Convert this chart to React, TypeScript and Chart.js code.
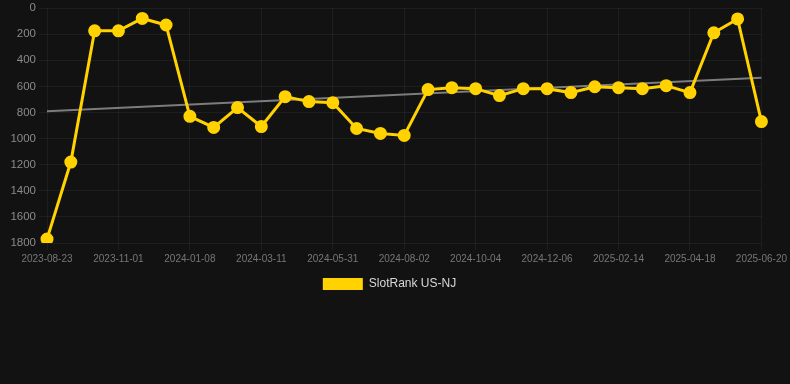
import React, { useEffect, useRef } from "react";
import { Chart, registerables } from "chart.js";

Chart.register(...registerables);

const dates: string[] = [
  "2023-08-23", "2023-09-15", "2023-10-08", "2023-11-01", "2023-11-24", "2023-12-16",
  "2024-01-08", "2024-01-29", "2024-02-19", "2024-03-11", "2024-04-07", "2024-05-04",
  "2024-05-31", "2024-06-21", "2024-07-12", "2024-08-02", "2024-08-23", "2024-09-13",
  "2024-10-04", "2024-10-25", "2024-11-15", "2024-12-06", "2024-12-29", "2025-01-22",
  "2025-02-14", "2025-03-07", "2025-03-28", "2025-04-18", "2025-05-09", "2025-05-30",
  "2025-06-20",
];

const rankValues: number[] = [
  1770, 1180, 175, 175, 80, 130, 830, 915, 763, 908, 679, 717, 725, 923, 961, 976,
  625, 610, 618, 671, 618, 618, 648, 603, 610, 618, 595, 648, 190, 84, 870,
];

const seriesLabel = "SlotRank US-NJ";
const yTicks = { min: 0, max: 1800, step: 200 };

function trendLine(values: number[]): (number | null)[] {
  const n = values.length;
  const mx = (n - 1) / 2;
  const my = values.reduce((a, b) => a + b, 0) / n;
  let num = 0;
  let den = 0;
  values.forEach((v, i) => {
    num += (i - mx) * (v - my);
    den += (i - mx) * (i - mx);
  });
  const slope = num / den;
  const b = my - slope * mx;
  return values.map((_, i) => (i === 0 || i === n - 1 ? b + slope * i : null));
}

const FONT = "Liberation Sans, Arial, sans-serif";

export default function App() {
  const ref = useRef<HTMLCanvasElement | null>(null);

  useEffect(() => {
    document.body.style.margin = "0";
    document.body.style.background = "#121212";
    if (!ref.current) return;
    const chart = new Chart(ref.current, {
      type: "line",
      data: {
        labels: dates,
        datasets: [
          {
            label: seriesLabel,
            data: rankValues,
            borderColor: "#FFD200",
            backgroundColor: "#FFD200",
            borderWidth: 3,
            pointRadius: 5,
            pointHoverRadius: 5,
            pointBackgroundColor: "#FFD200",
            pointBorderColor: "#FFD200",
            tension: 0,
            order: 1,
          },
          {
            label: "trend",
            data: trendLine(rankValues),
            borderColor: "rgba(160,160,160,0.75)",
            backgroundColor: "rgba(160,160,160,0.75)",
            borderWidth: 2,
            pointRadius: 0,
            spanGaps: true,
            order: 2,
          },
        ],
      },
      options: {
        animation: false,
        responsive: true,
        maintainAspectRatio: false,
        layout: { padding: { top: 0, right: 11, left: 0, bottom: 0 } },
        plugins: {
          legend: {
            position: "bottom",
            labels: {
              color: "#d8d8d8",
              boxWidth: 40,
              boxHeight: 12,
              font: { family: FONT, size: 12 },
              filter: (item) => item.text !== "trend",
              generateLabels: (c) =>
                Chart.defaults.plugins.legend.labels
                  .generateLabels(c)
                  .map((l) => ({ ...l, lineWidth: 0 })),
            },
          },
          tooltip: { enabled: false },
        },
        scales: {
          x: {
            grid: { color: "rgba(255,255,255,0.05)", drawTicks: true, tickLength: 7 },
            border: { display: false },
            ticks: {
              color: "#777777",
              font: { family: FONT, size: 10 },
              autoSkip: false,
              maxRotation: 0,
              callback: function (value, index) {
                return index % 3 === 0 ? (this as any).getLabelForValue(value) : null;
              },
            },
          },
          y: {
            reverse: true,
            min: yTicks.min,
            max: yTicks.max,
            grid: { color: "rgba(255,255,255,0.05)" },
            border: { display: false },
            afterFit: (scale: any) => {
              scale.width = 47;
              scale.paddingTop = 6;
              scale.paddingBottom = 0;
            },
            ticks: {
              stepSize: yTicks.step,
              color: "#8a8a8a",
              font: { family: FONT, size: 11.5 },
              callback: (v) => String(v),
            },
          },
        },
      },
    });
    return () => chart.destroy();
  }, []);

  return (
    <div style={{ width: 790, height: 300, position: "relative" }}>
      <canvas ref={ref} />
    </div>
  );
}
